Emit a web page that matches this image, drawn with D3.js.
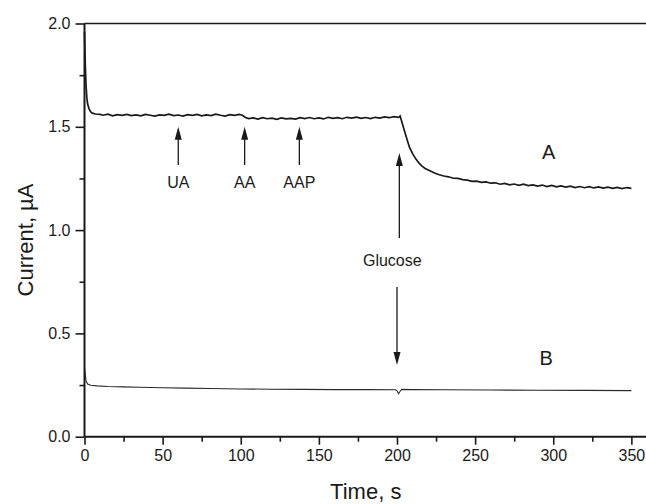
<!DOCTYPE html>
<html lang="en">
<head>
<meta charset="utf-8">
<title>Current vs time</title>
<script src="https://d3js.org/d3.v7.min.js"></script>
<style>
  body { margin: 0; background: #fff; }
  text { font-family: "Liberation Sans", Arial, sans-serif; fill: #1a1a1a; }
</style>
</head>
<body>
<script>
// curve A (time in s, current in uA)
var timeA = [0, 0.5, 1, 1.5, 2, 3, 4, 5, 7, 10,
  12, 15, 18, 21, 24, 27, 30, 33, 36, 39, 42, 45, 48, 51, 54, 57, 60, 63, 66, 69,
  72, 75, 78, 81, 84, 87, 90, 93, 96, 99, 101, 103, 105,
  108, 111, 114, 117, 120, 123, 126, 129, 132, 135, 138, 141, 144, 147, 150, 153,
  156, 159, 162, 165, 168, 171, 174, 177, 180, 183, 186, 189, 192, 195, 198, 201, 202,
  204, 206, 208, 210, 212, 214, 216, 218, 221, 224, 227, 230, 233, 236, 239, 242,
  245, 248, 251, 254, 257, 260, 263, 266, 269, 272, 275, 278, 281, 284, 287, 290,
  293, 296, 299, 302, 305, 308, 311, 314, 317, 320, 323, 326, 329, 332, 335, 338,
  341, 344, 347, 350];
var currentA = [1.96, 1.80, 1.70, 1.64, 1.61, 1.585, 1.572, 1.566, 1.562, 1.560,
  1.556, 1.561, 1.553, 1.559, 1.555, 1.560, 1.554, 1.558, 1.553, 1.560, 1.556, 1.552, 1.558, 1.555, 1.561, 1.554, 1.557, 1.552, 1.559, 1.555,
  1.560, 1.553, 1.558, 1.554, 1.561, 1.556, 1.552, 1.559, 1.555, 1.560, 1.556, 1.545, 1.540,
  1.543, 1.537, 1.544, 1.539, 1.542, 1.536, 1.543, 1.538, 1.541, 1.537, 1.544, 1.540, 1.545, 1.539, 1.543, 1.538,
  1.546, 1.541, 1.544, 1.539, 1.546, 1.542, 1.547, 1.541, 1.545, 1.540, 1.546, 1.542, 1.548, 1.544, 1.549, 1.546, 1.552,
  1.50, 1.45, 1.40, 1.37, 1.345, 1.325, 1.31, 1.298, 1.287, 1.276, 1.268, 1.262, 1.258, 1.251, 1.250, 1.244,
  1.242, 1.236, 1.237, 1.231, 1.233, 1.227, 1.229, 1.222, 1.226, 1.219, 1.223, 1.217, 1.222, 1.215, 1.219, 1.213,
  1.218, 1.211, 1.216, 1.209, 1.214, 1.208, 1.213, 1.206, 1.211, 1.205, 1.210, 1.204, 1.209, 1.203, 1.208, 1.202,
  1.207, 1.201, 1.206, 1.202];

// curve B
var timeB = [0, 0.5, 1, 2, 4, 8, 15, 25, 35, 50, 65, 80, 100, 120, 140, 160, 180, 199,
  200, 201, 202, 203, 210, 230, 260, 290, 320, 350];
var currentB = [0.335, 0.30, 0.27, 0.255, 0.249, 0.246, 0.243, 0.241, 0.239, 0.237, 0.235, 0.233,
  0.231, 0.230, 0.229, 0.228, 0.228, 0.227, 0.222, 0.208, 0.220, 0.229, 0.228, 0.227,
  0.226, 0.225, 0.224, 0.223];

var xTicks = [0, 50, 100, 150, 200, 250, 300, 350];
var yTicks = [0.0, 0.5, 1.0, 1.5, 2.0];

// arrows: [time, from current, to current]
var arrowsUp = [
  {name: "UA", t: 60, from: 1.315, to: 1.50, labelY: 1.204},
  {name: "AA", t: 102.5, from: 1.315, to: 1.50, labelY: 1.204},
  {name: "AAP", t: 137.5, from: 1.315, to: 1.50, labelY: 1.204},
  {name: "", t: 201.5, from: 0.962, to: 1.373, labelY: 0}
];
var arrowsDown = [{t: 200, from: 0.724, to: 0.347}];
var notes = [
  {text: "Glucose", t: 197, y: 0.826, size: 16},
  {text: "A", t: 297, y: 1.344, size: 20},
  {text: "B", t: 295.5, y: 0.347, size: 20}
];

var w = 646, h = 504;
var x = d3.scaleLinear().domain([0, 360]).range([84.5, 647]);
var y = d3.scaleLinear().domain([0, 2]).range([436.7, 23.5]);

var svg = d3.select("body").append("svg")
  .attr("width", w).attr("height", h);

// top frame line
svg.append("line")
  .attr("x1", x(0)).attr("x2", w)
  .attr("y1", y(2)).attr("y2", y(2))
  .attr("stroke", "#1a1a1a").attr("stroke-width", 1.6);

// curves
var line = d3.line()
  .x(function(d) { return x(d[0]); })
  .y(function(d) { return y(d[1]); });

svg.append("path")
  .datum(d3.zip(timeA, currentA))
  .attr("d", line)
  .attr("fill", "none")
  .attr("stroke", "#1a1a1a")
  .attr("stroke-width", 1.7);

svg.append("path")
  .datum(d3.zip(timeB, currentB))
  .attr("d", line)
  .attr("fill", "none")
  .attr("stroke", "#2a2a2a")
  .attr("stroke-width", 1.1);

// x axis
var xAxis = svg.append("g")
  .attr("transform", "translate(0," + y(0) + ")")
  .call(d3.axisBottom(x).tickValues(xTicks).tickSize(8).tickPadding(5).tickFormat(d3.format("d")));
svg.append("g")
  .attr("transform", "translate(0," + y(0) + ")")
  .call(d3.axisBottom(x).tickValues([25, 75, 125, 175, 225, 275, 325]).tickSize(5).tickFormat(""))
  .select(".domain").remove();

// y axis
var yAxis = svg.append("g")
  .attr("transform", "translate(" + x(0) + ",0)")
  .call(d3.axisLeft(y).tickValues(yTicks).tickSize(9).tickPadding(5).tickFormat(d3.format(".1f")));
svg.append("g")
  .attr("transform", "translate(" + x(0) + ",0)")
  .call(d3.axisLeft(y).tickValues([0.25, 0.75, 1.25, 1.75]).tickSize(5).tickFormat(""))
  .select(".domain").remove();

svg.selectAll(".domain").attr("stroke", "#1a1a1a").attr("stroke-width", 2);
svg.selectAll(".tick line").attr("stroke", "#1a1a1a").attr("stroke-width", 1.6);
svg.selectAll(".tick text")
  .style("font-family", "'Liberation Sans', Arial, sans-serif")
  .style("font-size", "16px").attr("fill", "#1a1a1a");
xAxis.select(".domain").attr("d", "M" + x(0) + ",0H" + w);
yAxis.select(".domain").attr("d", "M0," + y(0) + "V" + y(2));

// axis titles
svg.append("text")
  .attr("x", x(360) / 2 + x(0) / 2).attr("y", 499)
  .attr("text-anchor", "middle")
  .style("font-size", "22px")
  .text("Time, s");
svg.append("text")
  .attr("transform", "translate(33,240) rotate(-90)")
  .attr("text-anchor", "middle")
  .style("font-size", "22px")
  .text("Current, \u00b5A");

// arrows
function arrow(t, v0, v1) {
  var xp = x(t), y0 = y(v0), y1 = y(v1);
  var dir = y1 < y0 ? 1 : -1;
  svg.append("line")
    .attr("x1", xp).attr("x2", xp)
    .attr("y1", y0).attr("y2", y1 + dir * 8)
    .attr("stroke", "#1a1a1a").attr("stroke-width", 1.3);
  svg.append("path")
    .attr("d", "M" + xp + "," + y1 + "L" + (xp - 3.5) + "," + (y1 + dir * 13) +
      "L" + (xp + 3.5) + "," + (y1 + dir * 13) + "Z")
    .attr("fill", "#1a1a1a");
}
arrowsUp.forEach(function(a) {
  arrow(a.t, a.from, a.to);
  if (a.name) {
    svg.append("text")
      .attr("x", x(a.t)).attr("y", y(a.labelY))
      .attr("text-anchor", "middle")
      .style("font-size", "16px")
      .text(a.name);
  }
});
arrowsDown.forEach(function(a) { arrow(a.t, a.from, a.to); });

notes.forEach(function(n) {
  svg.append("text")
    .attr("x", x(n.t)).attr("y", y(n.y))
    .attr("text-anchor", "middle")
    .style("font-size", n.size + "px")
    .text(n.text);
});
</script>
</body>
</html>
